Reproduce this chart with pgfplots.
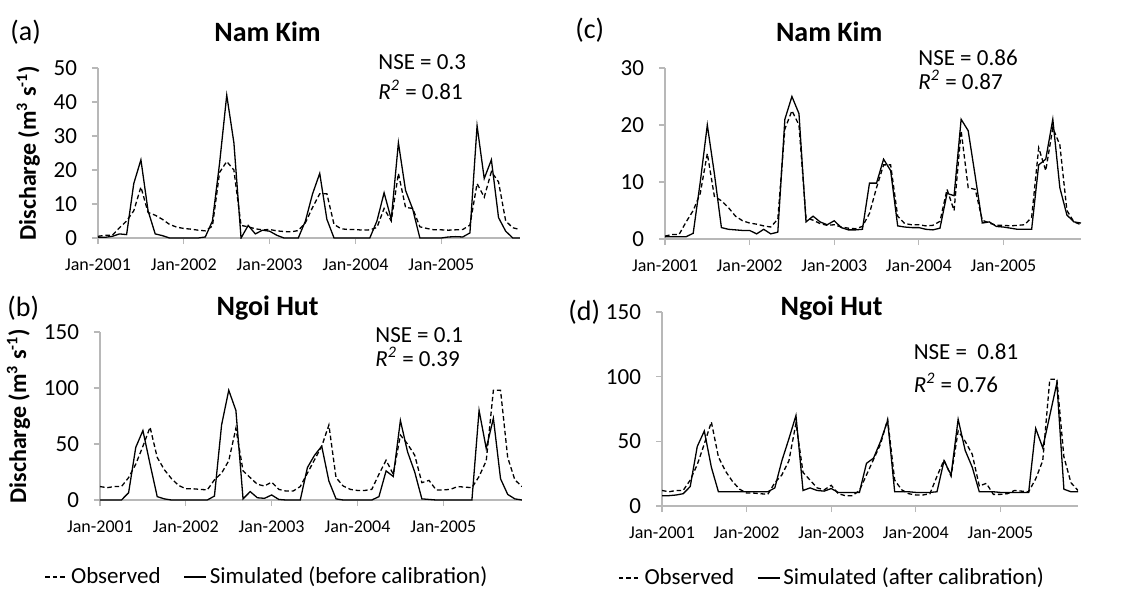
\documentclass[border=0pt]{standalone}
\usepackage{fontspec}
\setmainfont{Carlito}
\usepackage{pgfplots}
\usepackage{pgfplotstable}
\pgfplotsset{compat=1.18}

% month index (0 = Jan-2001), observed, simulated before calibration, simulated after calibration
\pgfplotstableread{
i obs before after
0 0.5 0.2 0.4
1 0.8 0.2 0.4
2 0.8 0.5 0.4
3 3 1.2 0.4
4 5 1.0 1.0
5 8 16 10
6 15 23 20
7 7.5 8 11.5
8 6.7 1.2 2.0
9 5.5 0.7 1.7
10 4 0 1.6
11 3.2 0 1.5
12 2.8 0 1.5
13 2.6 0 0.9
14 2.3 0 1.7
15 2.1 0.3 0.9
16 3.5 5 1.2
17 19.3 22 21
18 22.5 42 25
19 20 28 22
20 3.7 0 3
21 3.3 3.7 4
22 2.7 1.2 3
23 2.4 2.3 2.5
24 2.5 2.0 3.2
25 2.1 0.8 2
26 1.9 0 1.6
27 1.8 0 1.6
28 2.2 0 1.7
29 4.5 5 9.8
30 9 13 9.8
31 13 19 14
32 13 5.5 12
33 4 0 2.3
34 2.7 0 2.1
35 2.5 0 2
36 2.5 0 2
37 2.3 0 1.7
38 2.4 0 1.6
39 3.1 5 1.9
40 8.7 13.3 8
41 5 5.5 7.6
42 19 28 21
43 9 14 19
44 8.7 8.5 11
45 3.3 0 2.8
46 2.8 0 3
47 2.4 0 2.2
48 2.4 0 2.1
49 2.3 0.3 1.9
50 2.4 0.4 1.7
51 2.5 0.3 1.7
52 3.8 1.5 1.7
53 16 33 13
54 12 17.5 14
55 19.5 23 21
56 16.5 6 9
57 5 2 4.2
58 3 0 3
59 2.5 0 2.8
}\namkim

\pgfplotstableread{
i obs before after
0 12 0 8
1 11 0 8
2 12 0 8.5
3 12 0 9.5
4 20 6.5 15
5 32 47 46
6 48 62 58
7 65 32 30
8 38 3 11
9 27 1 11
10 19 0 11
11 13 0 11
12 10 0 11
13 10 0 11
14 9.5 0 11
15 9 0 11
16 18 3.5 14
17 24 67 35
18 35 98 52
19 64 80 70
20 26 1 12
21 20 7.5 14
22 14 2 12
23 12.5 1.5 11.5
24 16 4.5 13.5
25 9.5 0.5 10.5
26 8 0 10.5
27 8 0 10.5
28 12 0 10.5
29 24 29 33
30 36 40 37
31 48 48 50
32 67 17 66
33 20 1 11
34 12.5 0 11
35 9.5 0 11
36 8.5 0 10.5
37 8.5 0 10.5
38 9.5 0 10.5
39 23 3 11
40 35.5 26 35
41 23 21 24
42 58 71 67
43 50 43 43
44 40 25 30
45 15.5 1 11
46 17.5 0.5 11
47 9 0 11
48 9 0 10.5
49 9.5 0 10.5
50 12 0 10.5
51 11.5 0 10.5
52 11 0 10.5
53 21 80 60
54 35 46 45
55 98 73 70
56 98 19 95
57 38 5 13
58 18 1 11
59 12 0 11
}\ngoihut

\pgfplotsset{
  panel/.style={
    scale only axis, anchor=south west,
    xmin=0, xmax=59, ymin=0,
    axis lines*=left,
    axis line style={draw=black!28, line width=0.6pt},
    tick style={draw=black!28, line width=0.6pt},
    major tick length=3pt,
    tick align=outside,
    xtick={0,12,24,36,48},
    xticklabels={Jan-2001,Jan-2002,Jan-2003,Jan-2004,Jan-2005},
    xticklabel style={font=\fontsize{9}{10}\selectfont, yshift=-4pt},
    yticklabel style={font=\fontsize{11.5}{13}\selectfont, xshift=-4pt},
    /pgf/number format/assume math mode=true,
    ylabel style={font=\bfseries\fontsize{12}{14}\selectfont},
    legend image code/.code={\draw[##1] (0pt,0pt) -- (11pt,0pt);},
    legend style={draw=none, fill=none, legend columns=2, anchor=center,
      font=\fontsize{11.5}{13}\selectfont,
      /tikz/every even column/.append style={column sep=10pt},
      nodes={inner sep=1.5pt}},
  },
  obsline/.style={black, line width=0.65pt, dash pattern=on 2.3pt off 1.4pt},
  simline/.style={black, line width=0.65pt},
}

\begin{document}
\begin{tikzpicture}
\useasboundingbox (0,0) rectangle (562.5pt,295pt);

% (a)
\begin{axis}[panel, at={(49pt,176pt)}, width=211pt, height=85pt,
  ymax=50, ytick={0,10,20,30,40,50},
  ylabel={Discharge (m\textsuperscript{3} s\textsuperscript{-1})}]
\addplot[obsline] table[x=i, y=obs] {\namkim};
\addplot[simline] table[x=i, y=before] {\namkim};
\end{axis}

% (b)
\begin{axis}[panel, at={(50pt,45pt)}, width=211pt, height=84pt,
  ymax=150, ytick={0,50,100,150},
  ylabel={Discharge (m\textsuperscript{3} s\textsuperscript{-1})},
  legend style={at={(0.397,-0.458)}}]
\addplot[obsline] table[x=i, y=obs] {\ngoihut};
\addlegendentry{Observed}
\addplot[simline] table[x=i, y=before] {\ngoihut};
\addlegendentry{Simulated (before calibration)}
\end{axis}

% (c)
\begin{axis}[panel, at={(332.5pt,175.5pt)}, width=208pt, height=85.5pt,
  ymax=30, ytick={0,10,20,30}]
\addplot[obsline] table[x=i, y=obs] {\namkim};
\addplot[simline] table[x=i, y=after] {\namkim};
\end{axis}

% (d)
\begin{axis}[panel, at={(331pt,42pt)}, width=208pt, height=97pt,
  ymax=150, ytick={0,50,100,150},
  legend style={at={(0.41,-0.371)}}]
\addplot[obsline] table[x=i, y=obs] {\ngoihut};
\addlegendentry{Observed}
\addplot[simline] table[x=i, y=after] {\ngoihut};
\addlegendentry{Simulated (after calibration)}
\end{axis}

% panel letters, titles and statistics
\begin{scope}[every node/.style={inner sep=0pt}]
\node[anchor=west, font=\fontsize{14}{16}\selectfont] at (5pt,279pt) {(a)};
\node[anchor=west, font=\fontsize{14}{16}\selectfont] at (287.5pt,280pt) {(c)};
\node[anchor=west, font=\fontsize{14}{16}\selectfont] at (3.5pt,141pt) {(b)};
\node[anchor=west, font=\fontsize{14}{16}\selectfont] at (284pt,139pt) {(d)};
\node[font=\bfseries\fontsize{14}{16}\selectfont] at (133.75pt,279pt) {Nam Kim};
\node[font=\bfseries\fontsize{14}{16}\selectfont] at (414.6pt,279pt) {Nam Kim};
\node[font=\bfseries\fontsize{14}{16}\selectfont] at (133.8pt,141pt) {Ngoi Hut};
\node[font=\bfseries\fontsize{14}{16}\selectfont] at (415.8pt,141pt) {Ngoi Hut};
\node[anchor=west, font=\fontsize{11.5}{13}\selectfont] at (189pt,264pt) {NSE = 0.3};
\node[anchor=west, font=\fontsize{11.5}{13}\selectfont] at (189pt,250pt) {\textit{R}\textsuperscript{\textit{2}} = 0.81};
\node[anchor=west, font=\fontsize{11.5}{13}\selectfont] at (459pt,266pt) {NSE = 0.86};
\node[anchor=west, font=\fontsize{11.5}{13}\selectfont] at (459pt,255pt) {\textit{R}\textsuperscript{\textit{2}} = 0.87};
\node[anchor=west, font=\fontsize{11.5}{13}\selectfont] at (187.5pt,127.5pt) {NSE = 0.1};
\node[anchor=west, font=\fontsize{11.5}{13}\selectfont] at (187.5pt,116.5pt) {\textit{R}\textsuperscript{\textit{2}} = 0.39};
\node[anchor=west, font=\fontsize{11.5}{13}\selectfont] at (456.7pt,119pt) {NSE =~~0.81};
\node[anchor=west, font=\fontsize{11.5}{13}\selectfont] at (456.7pt,103.5pt) {\textit{R}\textsuperscript{\textit{2}} = 0.76};
\end{scope}
\end{tikzpicture}
\end{document}
